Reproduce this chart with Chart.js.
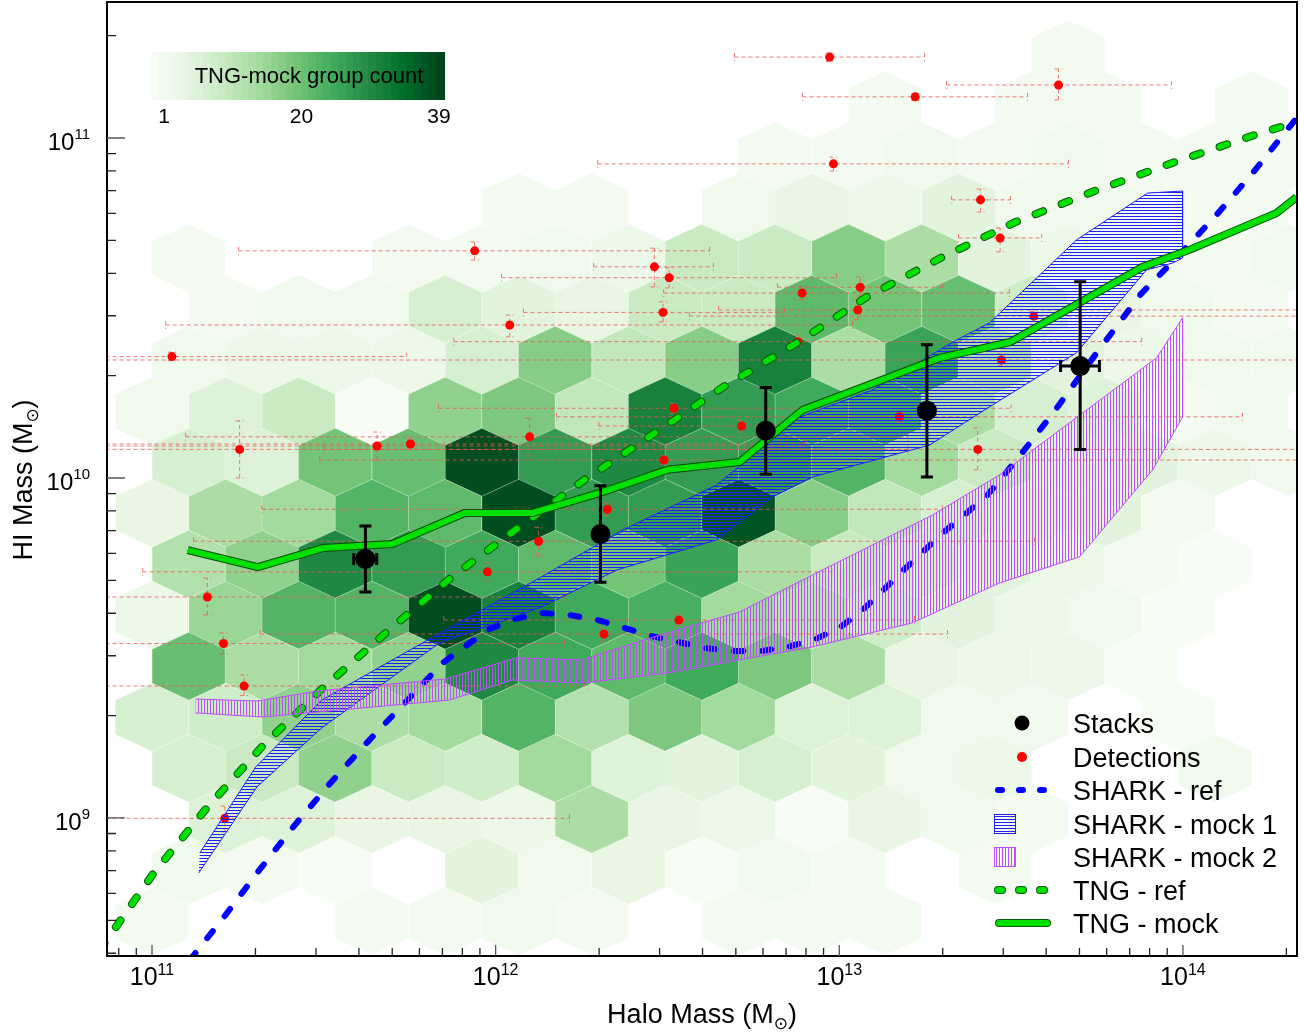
<!DOCTYPE html>
<html>
<head>
<meta charset="utf-8">
<script src="https://cdn.jsdelivr.net/npm/chart.js@4.4.1/dist/chart.umd.min.js"></script>
<style>
  body { margin: 0; background: #fff; }
</style>
</head>
<body>
<canvas id="hi_chart" width="1305" height="1032"></canvas>
<script>
// all values are log10 (M_sun)

// axis range
const xRangeLog = [10.869, 14.332];
const yRangeLog = [8.594, 11.4];
const xMajorLog = [11, 12, 13, 14];
const yMajorLog = [9, 10, 11];

// hexbin grid (TNG-mock group counts)
const hexColsEven = [10.894, 11.107, 11.320, 11.533, 11.747, 11.960, 12.173, 12.387, 12.600, 12.813, 13.027, 13.240, 13.453, 13.666, 13.880, 14.093, 14.306];
const hexColsOdd = [11.000, 11.214, 11.427, 11.640, 11.853, 12.067, 12.280, 12.493, 12.707, 12.920, 13.133, 13.347, 13.560, 13.773, 13.986, 14.200];
const hexRowLogHI = [11.246, 11.096, 10.946, 10.796, 10.646, 10.496, 10.346, 10.196, 10.046, 9.896, 9.746, 9.596, 9.446, 9.296, 9.146, 8.996, 8.846, 8.696];
const hexCounts = [
  [0,0,0,0,0,0,0,0,0,0,0,0,0,2,0,0,0],
  [0,0,0,0,0,0,0,0,0,0,2,0,2,2,0,2],
  [0,0,0,0,0,0,0,0,0,2,2,3,2,3,2,2,2],
  [0,0,0,0,0,2,2,0,3,5,4,6,3,3,2,2],
  [0,2,0,0,2,2,3,4,10,10,18,14,6,4,3,2,3],
  [0,2,3,3,8,6,5,10,10,22,20,21,9,5,3,2],
  [0,3,4,4,4,8,18,11,18,31,14,26,14,6,4,3,3],
  [3,7,10,1,17,19,11,31,27,25,25,14,8,7,2,3],
  [0,8,7,20,21,38,27,30,27,27,23,15,10,6,6,4,3],
  [5,14,15,23,22,38,27,27,37,18,11,8,6,6,2,0],
  [0,13,17,30,27,25,22,20,26,14,10,8,6,4,2,1,0],
  [4,16,23,23,38,31,25,24,15,12,9,6,4,3,1,0],
  [0,21,14,15,17,30,25,22,25,19,14,5,4,4,1,0,0],
  [8,9,17,14,15,23,13,19,15,7,7,3,3,0,1,0],
  [0,8,10,17,10,9,15,7,6,8,6,3,4,0,0,3,0],
  [0,7,7,5,5,4,14,5,4,1,5,3,2,0,0,0],
  [0,3,2,1,0,6,3,5,1,3,2,0,2,0,0,0,0],
  [2,0,0,2,2,3,2,0,2,2,2,0,0,0,0,0]
];
const hexHalfW = 0.1067, hexSide = 0.05, hexTip = 0.10;
const countMin = 1, countMax = 39;
const colorbarTicks = [1, 20, 39];

// stacks
const stackLogM = [11.621, 12.305, 12.786, 13.255, 13.701];
const stackLogHI = [9.762, 9.835, 10.139, 10.198, 10.329];
const stackLogHILo = [9.665, 9.693, 10.011, 10.003, 10.084];
const stackLogHIHi = [9.859, 9.977, 10.266, 10.392, 10.577];
const stackLogMLo = [11.587, null, null, null, 13.644];
const stackLogMHi = [11.654, null, null, null, 13.757];

// detections
const detLogM = [12.972, 13.221, 13.638, 12.983, 13.411, 13.468, 11.939, 12.462, 12.505, 12.487, 13.054, 12.892, 13.061, 13.566, 12.041, 11.058, 11.255, 11.655, 11.752, 12.099, 11.161, 11.208, 11.268, 11.976, 12.125, 12.519, 12.716, 12.490, 12.325, 12.315, 12.533, 13.175, 13.403, 13.472, 12.880, 11.212];
const detLogHI = [11.238, 11.121, 11.156, 10.924, 10.818, 10.706, 10.668, 10.621, 10.589, 10.487, 10.494, 10.544, 10.561, 10.476, 10.450, 10.357, 10.084, 10.094, 10.100, 10.121, 9.650, 9.513, 9.388, 9.724, 9.814, 10.205, 10.153, 10.053, 9.908, 9.541, 9.582, 10.180, 10.084, 10.347, 10.401, 8.999];
const detXLo = [12.695, 12.893, 13.312, 12.297, 13.327, 13.347, 11.252, 12.285, 12.017, 12.081, 12.649, 12.489, 12.820, 12.564, 11.040, 10.600, 10.600, 10.600, 10.600, 11.098, 10.600, 10.600, 10.600, 10.973, 11.121, 11.834, 12.300, 11.488, 11.320, 11.315, 11.849, 12.177, 11.500, 10.600, 11.878, 10.600];
const detXHi = [13.248, 13.548, 13.967, 13.667, 13.498, 13.589, 12.623, 12.634, 12.992, 12.841, 14.450, 13.495, 13.301, 14.450, 13.039, 11.741, 13.200, 12.900, 12.900, 13.200, 12.200, 12.200, 12.268, 12.978, 13.568, 13.500, 13.100, 14.450, 13.300, 13.315, 13.219, 14.173, 14.450, 14.450, 13.880, 12.215];
const detYLo = [11.225, 11.110, 11.112, 10.903, 10.782, 10.665, 10.641, 10.562, 10.559, 10.459, 10.465, 10.525, 10.535, 10.460, 10.415, 10.345, 10.000, 10.053, 10.085, 10.065, 9.597, 9.482, 9.360, 9.697, 9.770, 10.190, 10.135, 10.040, 9.890, 9.520, 9.565, 10.165, 10.024, 10.330, 10.385, 8.959];
const detYHi = [11.250, 11.130, 11.203, 10.944, 10.850, 10.735, 10.694, 10.676, 10.618, 10.518, 10.524, 10.565, 10.591, 10.490, 10.479, 10.370, 10.168, 10.135, 10.115, 10.176, 9.706, 9.544, 9.420, 9.750, 9.855, 10.220, 10.170, 10.065, 9.925, 9.560, 9.600, 10.195, 10.147, 10.365, 10.420, 9.035];

// SHARK - ref
const sharkRefLogM = [11.110, 11.212, 11.308, 11.409, 11.514, 11.625, 11.735, 11.846, 11.977, 12.055, 12.137, 12.215, 12.297, 12.454, 12.608, 12.690, 12.774, 12.850, 12.931, 13.004, 13.068, 13.126, 13.184, 13.301, 13.429, 13.530, 13.629, 13.749, 13.880, 13.984, 14.098, 14.203, 14.331];
const sharkRefLogHI = [8.582, 8.712, 8.841, 8.971, 9.097, 9.221, 9.338, 9.456, 9.553, 9.585, 9.603, 9.597, 9.582, 9.535, 9.500, 9.491, 9.491, 9.503, 9.526, 9.562, 9.612, 9.668, 9.726, 9.838, 9.947, 10.071, 10.200, 10.368, 10.544, 10.650, 10.774, 10.897, 11.059];

// SHARK - mock 1 (band)
const mock1UpLogM = [11.139, 11.302, 11.494, 11.817, 12.128, 12.370, 12.643, 12.885, 13.097, 13.341, 13.437, 13.690, 13.897, 13.999];
const mock1UpLogHI = [8.897, 9.150, 9.347, 9.532, 9.706, 9.847, 9.979, 10.179, 10.259, 10.406, 10.456, 10.700, 10.838, 10.844];
const mock1LoLogM = [11.136, 11.305, 11.494, 11.837, 12.128, 12.352, 12.643, 12.806, 12.922, 13.263, 13.437, 13.690, 13.894, 13.970, 13.999];
const mock1LoLogHI = [8.838, 9.091, 9.265, 9.515, 9.618, 9.729, 9.818, 9.944, 10.003, 10.097, 10.209, 10.368, 10.612, 10.632, 10.647];

// SHARK - mock 2 (band)
const mock2UpLogM = [11.127, 11.305, 11.488, 11.855, 12.061, 12.253, 12.448, 12.710, 12.922, 13.271, 13.466, 13.923, 13.999];
const mock2UpLogHI = [9.350, 9.344, 9.374, 9.409, 9.471, 9.465, 9.529, 9.606, 9.715, 9.891, 10.009, 10.353, 10.471];
const mock2LoLogM = [11.127, 11.322, 11.866, 12.049, 12.253, 12.498, 12.710, 12.922, 13.213, 13.466, 13.699, 13.912, 13.999];
const mock2LoLogHI = [9.309, 9.297, 9.347, 9.406, 9.397, 9.426, 9.465, 9.503, 9.574, 9.691, 9.768, 10.024, 10.179];

// TNG - ref
const tngRefLogM = [10.848, 11.005, 11.159, 11.322, 11.497, 11.680, 11.869, 12.061, 12.262, 12.463, 12.663, 12.876, 13.079, 13.295, 13.513, 13.743, 13.967, 14.200, 14.331];
const tngRefLogHI = [8.612, 8.838, 9.029, 9.212, 9.382, 9.544, 9.706, 9.850, 9.997, 10.132, 10.268, 10.397, 10.532, 10.647, 10.753, 10.844, 10.926, 11.006, 11.047];

// TNG - mock
const tngMockLogM = [11.104, 11.308, 11.497, 11.700, 11.910, 12.108, 12.303, 12.500, 12.710, 12.893, 13.292, 13.498, 13.883, 14.019, 14.272, 14.331];
const tngMockLogHI = [9.788, 9.738, 9.794, 9.806, 9.897, 9.897, 9.956, 10.024, 10.047, 10.200, 10.353, 10.400, 10.621, 10.671, 10.779, 10.826];

const legendLabels = ["Stacks", "Detections", "SHARK - ref", "SHARK - mock 1", "SHARK - mock 2", "TNG - ref", "TNG - mock"];

// ---------------------------------------------------------------
const FONT = "'Liberation Sans', Arial, Helvetica, sans-serif";
const P = (v) => Math.pow(10, v);
const pts = (xs, ys) => xs.map((v, i) => ({ x: P(v), y: P(ys[i]) }));
const band = (ux, uy, lx, ly) =>
  pts(ux.concat(lx.slice().reverse()), uy.concat(ly.slice().reverse()));

const greensStops = [[247,252,245],[229,245,224],[199,233,192],[161,217,155],[116,196,118],[65,171,93],[35,139,69],[0,109,44],[0,68,27]];
function greens(f) {
  f = Math.max(0, Math.min(1, f));
  const p = f * 8, i = Math.min(7, Math.floor(p)), t = p - i;
  const a = greensStops[i], b = greensStops[i + 1];
  return "rgb(" + a.map((v, j) => Math.round(v + (b[j] - v) * t)).join(",") + ")";
}

function hatch(color, vertical) {
  const c = document.createElement("canvas");
  c.width = 3; c.height = 3;
  const g = c.getContext("2d");
  g.fillStyle = color;
  if (vertical) g.fillRect(0, 0, 1, 3); else g.fillRect(0, 0, 3, 1);
  return g.createPattern(c, "repeat");
}
const blueHatch = hatch("#1f1fff", false);
const violetHatch = hatch("#c04cff", true);

function minorTicks(lo, hi) {
  const out = [];
  for (let d = Math.floor(lo); d <= Math.ceil(hi); d++) {
    for (let m = 2; m <= 9; m++) {
      const v = d + Math.log10(m);
      if (v > lo && v < hi) out.push(v);
    }
  }
  return out;
}

function drawPower(ctx, exp, x, y, align, baseSize, supSize, supRise) {
  ctx.font = baseSize + "px " + FONT;
  const w1 = ctx.measureText("10").width;
  ctx.font = supSize + "px " + FONT;
  const w2 = ctx.measureText(String(exp)).width;
  const x0 = align === "center" ? x - (w1 + w2) / 2 : x - (w1 + w2);
  ctx.textAlign = "left";
  ctx.textBaseline = "alphabetic";
  ctx.font = baseSize + "px " + FONT;
  ctx.fillText("10", x0, y);
  ctx.font = supSize + "px " + FONT;
  ctx.fillText(String(exp), x0 + w1, y - supRise);
}

function drawMassLabel(ctx, prefix, cx, cy) {
  ctx.textBaseline = "alphabetic";
  ctx.textAlign = "left";
  ctx.font = "27px " + FONT;
  const w1 = ctx.measureText(prefix).width;
  const w3 = ctx.measureText(")").width;
  ctx.font = "17px 'DejaVu Sans', " + FONT;
  const w2 = ctx.measureText("\u2299").width;
  const x0 = cx - (w1 + w2 + w3) / 2;
  ctx.font = "27px " + FONT;
  ctx.fillText(prefix, x0, cy);
  ctx.font = "17px 'DejaVu Sans', " + FONT;
  ctx.fillText("\u2299", x0 + w1, cy + 6);
  ctx.font = "27px " + FONT;
  ctx.fillText(")", x0 + w1 + w2, cy);
}

const extras = {
  id: "extras",
  beforeDatasetsDraw(chart) {
    const { ctx, chartArea: a, scales: { x, y } } = chart;
    const X = (v) => x.getPixelForValue(P(v));
    const Y = (v) => y.getPixelForValue(P(v));
    ctx.save();
    ctx.beginPath();
    ctx.rect(a.left, a.top, a.right - a.left, a.bottom - a.top);
    ctx.clip();

    // hexbin cells
    hexCounts.forEach((row, r) => {
      const cols = r % 2 === 0 ? hexColsEven : hexColsOdd;
      const cy = hexRowLogHI[r];
      row.forEach((n, k) => {
        if (!n) return;
        const cx = cols[k];
        ctx.beginPath();
        ctx.moveTo(X(cx + hexHalfW), Y(cy - hexSide));
        ctx.lineTo(X(cx + hexHalfW), Y(cy + hexSide));
        ctx.lineTo(X(cx), Y(cy + hexTip));
        ctx.lineTo(X(cx - hexHalfW), Y(cy + hexSide));
        ctx.lineTo(X(cx - hexHalfW), Y(cy - hexSide));
        ctx.lineTo(X(cx), Y(cy - hexTip));
        ctx.closePath();
        ctx.fillStyle = greens((n - countMin) / (countMax - countMin));
        ctx.fill();
        ctx.strokeStyle = "rgba(255,255,255,0.3)";
        ctx.lineWidth = 0.7;
        ctx.stroke();
      });
    });

    // detection error bars
    ctx.strokeStyle = "rgba(240,85,85,0.8)";
    ctx.lineWidth = 1;
    ctx.setLineDash([4, 3]);
    detLogM.forEach((m, i) => {
      const px = X(m), py = Y(detLogHI[i]);
      const x0 = X(detXLo[i]), x1 = X(detXHi[i]);
      const y0 = Y(detYLo[i]), y1 = Y(detYHi[i]);
      ctx.beginPath();
      ctx.moveTo(x0, py); ctx.lineTo(x1, py);
      ctx.moveTo(px, y0); ctx.lineTo(px, y1);
      ctx.moveTo(x0, py - 4); ctx.lineTo(x0, py + 4);
      ctx.moveTo(x1, py - 4); ctx.lineTo(x1, py + 4);
      ctx.moveTo(px - 4, y0); ctx.lineTo(px + 4, y0);
      ctx.moveTo(px - 4, y1); ctx.lineTo(px + 4, y1);
      ctx.stroke();
    });
    ctx.restore();
  },

  afterDatasetsDraw(chart) {
    const { ctx, scales: { x, y } } = chart;
    const X = (v) => x.getPixelForValue(P(v));
    const Y = (v) => y.getPixelForValue(P(v));
    // stack error bars
    ctx.save();
    ctx.strokeStyle = "#000";
    ctx.lineWidth = 3;
    stackLogM.forEach((m, i) => {
      const px = X(m), py = Y(stackLogHI[i]);
      const y0 = Y(stackLogHILo[i]), y1 = Y(stackLogHIHi[i]);
      ctx.beginPath();
      ctx.moveTo(px, y0); ctx.lineTo(px, y1);
      ctx.moveTo(px - 6, y0); ctx.lineTo(px + 6, y0);
      ctx.moveTo(px - 6, y1); ctx.lineTo(px + 6, y1);
      if (stackLogMLo[i] !== null) {
        const x0 = X(stackLogMLo[i]), x1 = X(stackLogMHi[i]);
        ctx.moveTo(x0, py); ctx.lineTo(x1, py);
        ctx.moveTo(x0, py - 6); ctx.lineTo(x0, py + 6);
        ctx.moveTo(x1, py - 6); ctx.lineTo(x1, py + 6);
      }
      ctx.stroke();
    });
    ctx.restore();
  },

  afterDraw(chart) {
    const { ctx, chartArea: a, scales: { x, y } } = chart;
    const X = (v) => x.getPixelForValue(P(v));
    const Y = (v) => y.getPixelForValue(P(v));
    ctx.save();

    // frame
    ctx.strokeStyle = "#000";
    ctx.lineWidth = 2;
    ctx.strokeRect(a.left, a.top, a.right - a.left, a.bottom - a.top);

    // inward ticks
    ctx.lineWidth = 1.3;
    ctx.strokeStyle = "#222";
    ctx.beginPath();
    minorTicks(xRangeLog[0], xRangeLog[1]).forEach((v) => {
      const px = X(v); ctx.moveTo(px, a.bottom); ctx.lineTo(px, a.bottom - 8);
    });
    minorTicks(yRangeLog[0], yRangeLog[1]).forEach((v) => {
      const py = Y(v); ctx.moveTo(a.left, py); ctx.lineTo(a.left + 9, py);
    });
    ctx.stroke();
    ctx.strokeStyle = "#555";
    ctx.beginPath();
    xMajorLog.forEach((v) => { const px = X(v); ctx.moveTo(px, a.bottom); ctx.lineTo(px, a.bottom - 11); });
    yMajorLog.forEach((v) => { const py = Y(v); ctx.moveTo(a.left, py); ctx.lineTo(a.left + 18, py); });
    ctx.stroke();

    // tick labels
    ctx.fillStyle = "#000";
    xMajorLog.forEach((v) => drawPower(ctx, v, X(v), 985, "center", 25, 16, 10));
    yMajorLog.forEach((v) => drawPower(ctx, v, 90, Y(v) + 12, "right", 24, 15, 11));

    // axis titles
    drawMassLabel(ctx, "Halo Mass (M", 702, 1023);
    ctx.save();
    ctx.translate(32, 480);
    ctx.rotate(-Math.PI / 2);
    drawMassLabel(ctx, "HI Mass (M", 0, 0);
    ctx.restore();

    // colorbar
    const cbL = 151, cbR = 444, cbT = 52, cbB = 100;
    const steps = countMax - countMin + 1;
    for (let i = 0; i < steps; i++) {
      const x0 = cbL + (cbR - cbL) * i / steps;
      ctx.fillStyle = greens(i / (steps - 1));
      ctx.fillRect(Math.floor(x0), cbT, Math.ceil((cbR - cbL) / steps) + 1, cbB - cbT);
    }
    ctx.fillStyle = "#000";
    ctx.font = "22px " + FONT;
    ctx.textAlign = "center";
    ctx.textBaseline = "alphabetic";
    ctx.fillText("TNG-mock group count", 309, 83);
    ctx.font = "21px " + FONT;
    colorbarTicks.forEach((v) => {
      const px = 164 + (v - countMin) / (countMax - countMin) * (439 - 164);
      ctx.fillText(String(v), px, 123);
    });

    // legend
    const rowY = [723, 757, 790, 824, 857, 890, 923];
    ctx.font = "27px " + FONT;
    ctx.textAlign = "left";
    legendLabels.forEach((t, i) => ctx.fillText(t, 1073, rowY[i] + 10));
    ctx.fillStyle = "#000";
    ctx.beginPath(); ctx.arc(1022, rowY[0], 7.5, 0, Math.PI * 2); ctx.fill();
    ctx.fillStyle = "#ff0000";
    ctx.beginPath(); ctx.arc(1022, rowY[1], 5, 0, Math.PI * 2); ctx.fill();
    ctx.lineCap = "round";
    ctx.setLineDash([4, 17]);
    ctx.strokeStyle = "#0000ff"; ctx.lineWidth = 6;
    ctx.beginPath(); ctx.moveTo(998, rowY[2]); ctx.lineTo(1047, rowY[2]); ctx.stroke();
    ctx.strokeStyle = "#0a5a0a"; ctx.lineWidth = 8;
    ctx.beginPath(); ctx.moveTo(998, rowY[5]); ctx.lineTo(1047, rowY[5]); ctx.stroke();
    ctx.strokeStyle = "#00e000"; ctx.lineWidth = 6;
    ctx.beginPath(); ctx.moveTo(998, rowY[5]); ctx.lineTo(1047, rowY[5]); ctx.stroke();
    ctx.setLineDash([]);
    ctx.strokeStyle = "#0a5a0a"; ctx.lineWidth = 8;
    ctx.beginPath(); ctx.moveTo(999, rowY[6]); ctx.lineTo(1047, rowY[6]); ctx.stroke();
    ctx.strokeStyle = "#00e000"; ctx.lineWidth = 6;
    ctx.beginPath(); ctx.moveTo(999, rowY[6]); ctx.lineTo(1047, rowY[6]); ctx.stroke();
    ctx.lineCap = "butt";
    ctx.lineWidth = 1;
    ctx.fillStyle = blueHatch; ctx.fillRect(994, rowY[3] - 10, 21, 19);
    ctx.strokeStyle = "#1f1fff"; ctx.strokeRect(994.5, rowY[3] - 9.5, 21, 19);
    ctx.fillStyle = violetHatch; ctx.fillRect(994, rowY[4] - 10, 21, 19);
    ctx.strokeStyle = "#c04cff"; ctx.strokeRect(994.5, rowY[4] - 9.5, 21, 19);

    ctx.restore();
  }
};

const lineBase = { type: "line", pointRadius: 0, tension: 0, fill: false, clip: 0, borderJoinStyle: "round" };

const config = {
  type: "scatter",
  data: {
    datasets: [
      { label: "Stacks", data: pts(stackLogM, stackLogHI), backgroundColor: "#000", pointRadius: 10, pointHoverRadius: 10, borderWidth: 0, order: 0 },
      Object.assign({}, lineBase, { label: "TNG - mock", data: pts(tngMockLogM, tngMockLogHI), borderColor: "#00e000", borderWidth: 6, order: 1 }),
      Object.assign({}, lineBase, { label: "TNG - mock edge", data: pts(tngMockLogM, tngMockLogHI), borderColor: "#0a4a0a", borderWidth: 8, order: 2 }),
      Object.assign({}, lineBase, { label: "SHARK - mock 2", data: band(mock2UpLogM, mock2UpLogHI, mock2LoLogM, mock2LoLogHI), borderColor: "#c04cff", borderWidth: 1, backgroundColor: violetHatch, fill: "shape", order: 3 }),
      Object.assign({}, lineBase, { label: "SHARK - mock 1", data: band(mock1UpLogM, mock1UpLogHI, mock1LoLogM, mock1LoLogHI), borderColor: "#1f1fff", borderWidth: 1, backgroundColor: blueHatch, fill: "shape", order: 4 }),
      Object.assign({}, lineBase, { label: "TNG - ref", data: pts(tngRefLogM, tngRefLogHI), borderColor: "#00e000", borderWidth: 6, borderDash: [8, 20], borderCapStyle: "round", order: 5 }),
      Object.assign({}, lineBase, { label: "TNG - ref edge", data: pts(tngRefLogM, tngRefLogHI), borderColor: "#0a5a0a", borderWidth: 8, borderDash: [8, 20], borderCapStyle: "round", order: 6 }),
      Object.assign({}, lineBase, { label: "SHARK - ref", data: pts(sharkRefLogM, sharkRefLogHI), borderColor: "#0000ff", borderWidth: 6, borderDash: [9, 19], borderCapStyle: "round", order: 7 }),
      { label: "Detections", data: pts(detLogM, detLogHI), backgroundColor: "#ff0000", pointRadius: 4.5, pointHoverRadius: 4.5, borderWidth: 0, order: 8 }
    ]
  },
  options: {
    responsive: false,
    animation: false,
    devicePixelRatio: 1,
    layout: { autoPadding: false, padding: { left: 0, top: 2, right: 8, bottom: 0 } },
    plugins: { legend: { display: false }, tooltip: { enabled: false } },
    scales: {
      x: {
        type: "logarithmic",
        min: P(xRangeLog[0]), max: P(xRangeLog[1]),
        ticks: { display: false },
        grid: { display: false },
        border: { display: false },
        afterFit: (s) => { s.height = 76; }
      },
      y: {
        type: "logarithmic",
        min: P(yRangeLog[0]), max: P(yRangeLog[1]),
        ticks: { display: false },
        grid: { display: false },
        border: { display: false },
        afterFit: (s) => { s.width = 107; }
      }
    }
  },
  plugins: [extras]
};

new Chart(document.getElementById("hi_chart").getContext("2d"), config);
</script>
</body>
</html>
